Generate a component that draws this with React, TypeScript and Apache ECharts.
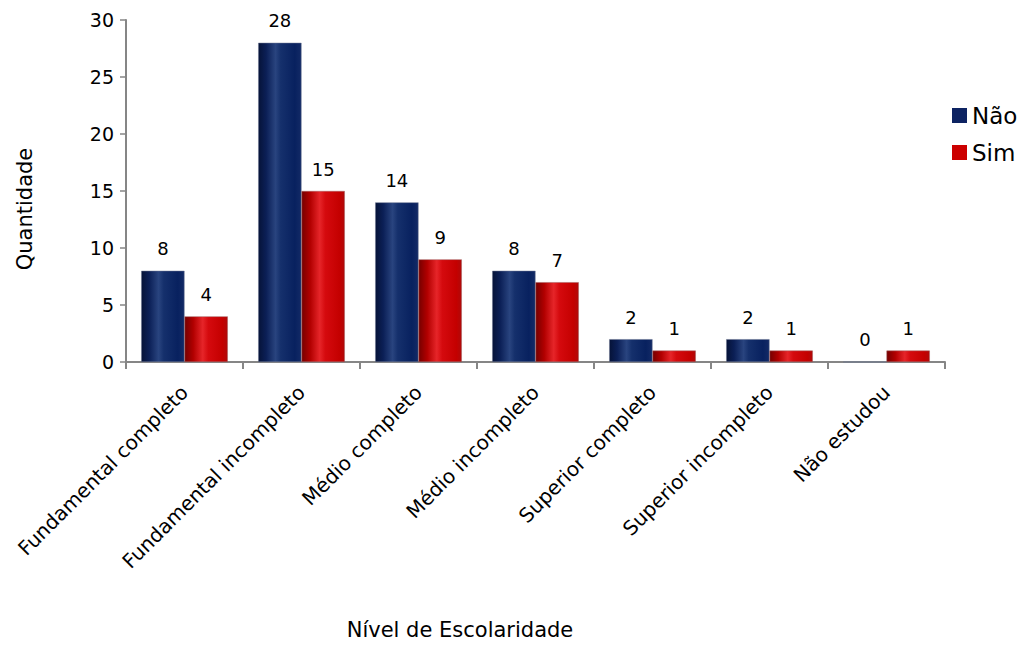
import React, { useEffect, useRef } from "react";
import * as echarts from "echarts";

const categories = [
  "Fundamental completo",
  "Fundamental incompleto",
  "Médio completo",
  "Médio incompleto",
  "Superior completo",
  "Superior incompleto",
  "Não estudou",
];
const naoValues = [8, 28, 14, 8, 2, 2, 0];
const simValues = [4, 15, 9, 7, 1, 1, 1];
const yTicks = { min: 0, max: 30, interval: 5 };

const FONT = "'DejaVu Sans', Verdana, sans-serif";

const blueGrad = new echarts.graphic.LinearGradient(0, 0, 1, 0, [
  { offset: 0, color: "#061338" },
  { offset: 0.18, color: "#0b1f56" },
  { offset: 0.4, color: "#29447f" },
  { offset: 0.52, color: "#15306c" },
  { offset: 0.85, color: "#08215f" },
  { offset: 1, color: "#132a66" },
]);
const redGrad = new echarts.graphic.LinearGradient(0, 0, 1, 0, [
  { offset: 0, color: "#760000" },
  { offset: 0.2, color: "#b20000" },
  { offset: 0.42, color: "#e62529" },
  { offset: 0.55, color: "#d50a0e" },
  { offset: 0.88, color: "#c40000" },
  { offset: 1, color: "#b00a0a" },
]);

export default function App() {
  const ref = useRef<HTMLDivElement>(null);
  useEffect(() => {
    const chart = echarts.init(ref.current!, null, { renderer: "svg" });
    const label = {
      show: true,
      position: "top" as const,
      distance: 13,
      color: "#000",
      fontFamily: FONT,
      fontSize: 18,
    };
    chart.setOption({
      animation: false,
      backgroundColor: "#fff",
      grid: { left: 126, right: 81, top: 20, bottom: 284, containLabel: false },
      legend: {
        orient: "vertical",
        left: 952,
        top: 104,
        padding: 0,
        itemWidth: 15,
        itemHeight: 15,
        itemGap: 14,
        icon: "rect",
        textStyle: { fontFamily: FONT, fontSize: 23, lineHeight: 23, color: "#000" },
        data: [
          { name: "Não", itemStyle: { color: "#0d2362", borderWidth: 0 } },
          { name: "Sim", itemStyle: { color: "#cc0000", borderWidth: 0 } },
        ],
      },
      xAxis: {
        type: "category",
        data: categories,
        axisLine: { lineStyle: { color: "#868686", width: 2 } },
        axisTick: { show: true, length: 7, lineStyle: { color: "#868686", width: 2 } },
        axisLabel: {
          rotate: 45,
          interval: 0,
          margin: 27,
          fontFamily: FONT,
          fontSize: 20,
          color: "#000",
        },
      },
      yAxis: {
        type: "value",
        min: yTicks.min,
        max: yTicks.max,
        interval: yTicks.interval,
        splitLine: { show: false },
        axisLine: { show: true, lineStyle: { color: "#868686", width: 2 } },
        axisTick: { show: true, length: 6, lineStyle: { color: "#868686", width: 1.5 } },
        axisLabel: { fontFamily: FONT, fontSize: 19, color: "#000", margin: 12 },
      },
      graphic: [
        {
          type: "text",
          x: 25,
          y: 209,
          rotation: Math.PI / 2,
          style: {
            text: "Quantidade",
            fontFamily: FONT,
            fontSize: 21,
            fill: "#000",
            align: "center",
            verticalAlign: "middle",
          },
        },
        {
          type: "text",
          x: 460,
          y: 630,
          style: {
            text: "Nível de Escolaridade",
            fontFamily: FONT,
            fontSize: 21,
            fill: "#000",
            align: "center",
            verticalAlign: "middle",
          },
        },
      ],
      series: [
        {
          name: "Não",
          type: "bar",
          data: naoValues,
          barGap: "0%",
          barCategoryGap: "26%",
          itemStyle: { color: blueGrad, borderColor: "#6a7590", borderWidth: 0.5 },
          label,
        },
        {
          name: "Sim",
          type: "bar",
          data: simValues,
          barGap: "0%",
          barCategoryGap: "26%",
          itemStyle: { color: redGrad, borderColor: "#a06060", borderWidth: 0.5 },
          label,
        },
      ],
    });
    return () => chart.dispose();
  }, []);
  return <div ref={ref} style={{ width: 1026, height: 646, position: "absolute", left: 0, top: 0 }} />;
}
